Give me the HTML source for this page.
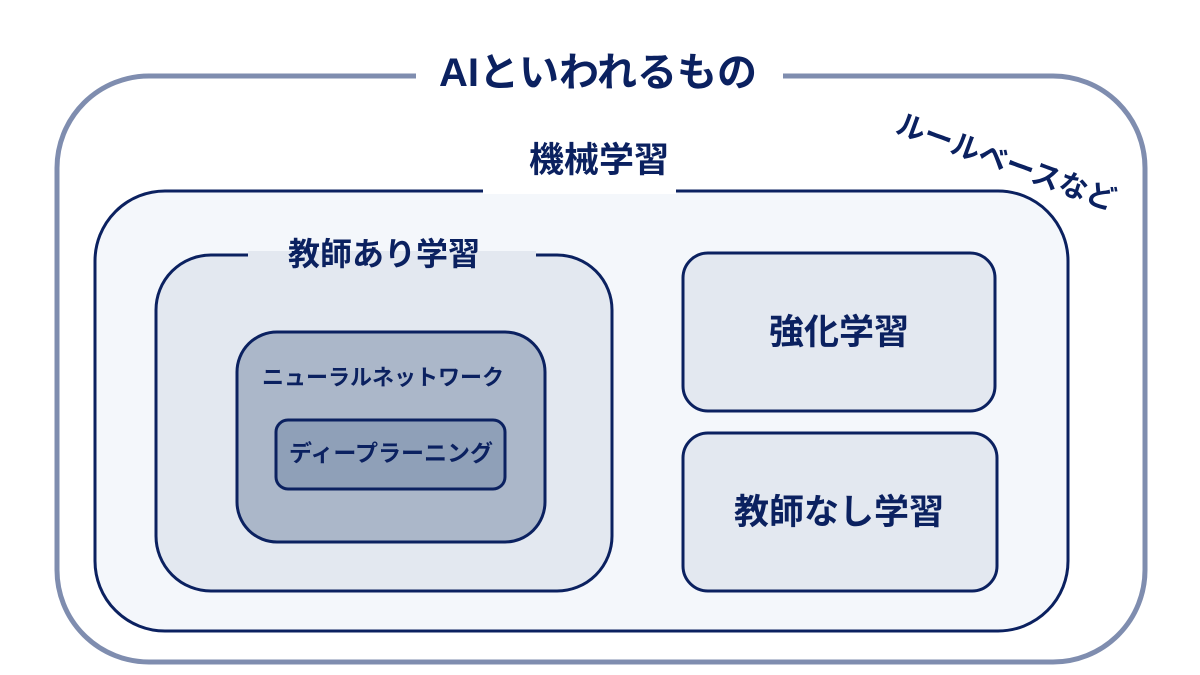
<!DOCTYPE html>
<html><head><meta charset="utf-8"><style>
html,body{margin:0;padding:0;background:#fff;}
svg{display:block;}
text{font-family:"Liberation Sans","Noto Sans CJK JP",sans-serif;font-weight:bold;fill:#0b2160;}
</style></head><body>
<svg width="1200" height="675" viewBox="0 0 1200 675">
<rect x="0" y="0" width="1200" height="675" fill="#fff"/>
<rect x="57" y="76" width="1088" height="586" rx="92" fill="#fff" stroke="#7f8daf" stroke-width="5"/>
<rect x="416" y="66" width="367" height="20" fill="#fff"/>
<text x="598" y="86" font-size="40" text-anchor="middle">AIといわれるもの</text>
<text x="1006" y="172" font-size="29" text-anchor="middle" transform="rotate(20 1006 162)">ルールベースなど</text>

<rect x="95" y="191" width="973" height="440" rx="70" fill="#f4f7fb" stroke="#0b2160" stroke-width="3"/>
<rect x="483" y="186" width="193" height="8" fill="#fff"/>
<text x="599" y="172" font-size="35" text-anchor="middle">機械学習</text>

<rect x="156" y="255" width="456" height="336" rx="55" fill="#e3e8f0" stroke="#0b2160" stroke-width="3"/>
<rect x="248" y="251" width="288" height="8" fill="#e3e8f0"/>
<text x="384" y="265" font-size="32" text-anchor="middle">教師あり学習</text>

<rect x="237" y="332" width="308" height="210" rx="40" fill="#abb7c9" stroke="#0b2160" stroke-width="3"/>
<text x="383" y="385" font-size="22" text-anchor="middle">ニューラルネットワーク</text>
<rect x="276" y="420" width="229" height="69" rx="12" fill="#8fa0b8" stroke="#0b2160" stroke-width="3"/>
<text x="391" y="461" font-size="23" text-anchor="middle">ディープラーニング</text>

<rect x="683" y="253" width="312" height="158" rx="25" fill="#e3e8f0" stroke="#0b2160" stroke-width="3"/>
<text x="839" y="344" font-size="35" text-anchor="middle">強化学習</text>
<rect x="683" y="433" width="314" height="158" rx="25" fill="#e3e8f0" stroke="#0b2160" stroke-width="3"/>
<text x="839" y="524" font-size="35" text-anchor="middle">教師なし学習</text>
</svg>
</body></html>
